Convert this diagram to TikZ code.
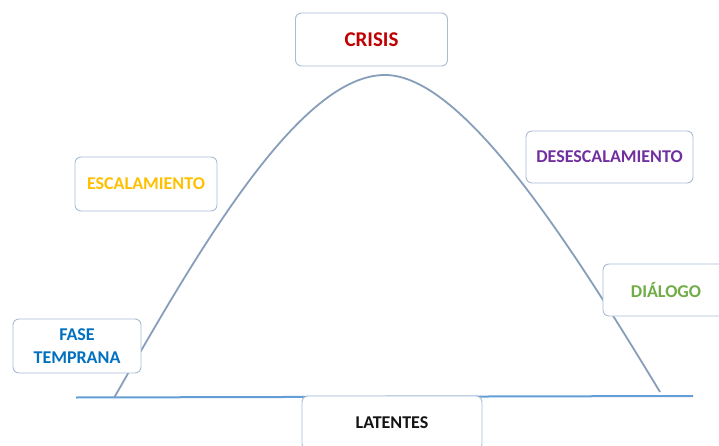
\documentclass[tikz,border=0pt]{standalone}
\usepackage{fontspec}
\setmainfont{Carlito}
\definecolor{boxline}{RGB}{168,188,212}
\definecolor{curvecol}{RGB}{135,158,186}
\definecolor{basecol}{RGB}{100,158,214}
\definecolor{crisiscol}{RGB}{192,0,0}
\definecolor{desccol}{RGB}{112,48,160}
\definecolor{esccol}{RGB}{255,192,0}
\definecolor{dialcol}{RGB}{112,173,71}
\definecolor{fasecol}{RGB}{0,112,192}
\definecolor{latcol}{RGB}{20,20,20}
\begin{document}
\begin{tikzpicture}[x=1pt,y=-1pt,
  stagebox/.style={draw=boxline, line width=0.9pt, fill=white, rounded corners=6pt,
    inner sep=0pt, font=\fontsize{18}{23.5}\selectfont\bfseries, align=center},
  curveline/.style={draw=curvecol, line width=1.8pt},
  baseline/.style={draw=basecol, line width=2pt}]
\useasboundingbox (0,0) rectangle (719,446);
\coordinate (bl) at (76,397.5);
\coordinate (br) at (693,396);
\draw[baseline] (bl) -- (br);
\coordinate (cs) at (114,398);
\coordinate (cp) at (385,75);
\coordinate (ce) at (660,392);
\draw[curveline] (cs) .. controls (200,247) and (300,75) .. (cp)
  .. controls (462,75) and (568,240) .. (ce);
\node[stagebox, minimum width=152pt, minimum height=53pt, text=crisiscol, font=\fontsize{21}{24}\selectfont\bfseries] (crisis) at (371.5,39.5) {CRISIS};
\node[stagebox, minimum width=167pt, minimum height=52pt, text=desccol] (desc) at (609.5,157) {DESESCALAMIENTO};
\node[stagebox, minimum width=142pt, minimum height=54pt, text=esccol] (esc) at (146,184) {ESCALAMIENTO};
\node[stagebox, minimum width=126pt, minimum height=52pt, text=dialcol] (dial) at (666,290) {DIÁLOGO};
\node[stagebox, minimum width=128pt, minimum height=54pt, text=fasecol] (fase) at (77,346) {FASE\\TEMPRANA};
\node[stagebox, minimum width=180pt, minimum height=54pt, text=latcol] (lat) at (392,423) {LATENTES};
\end{tikzpicture}
\end{document}
